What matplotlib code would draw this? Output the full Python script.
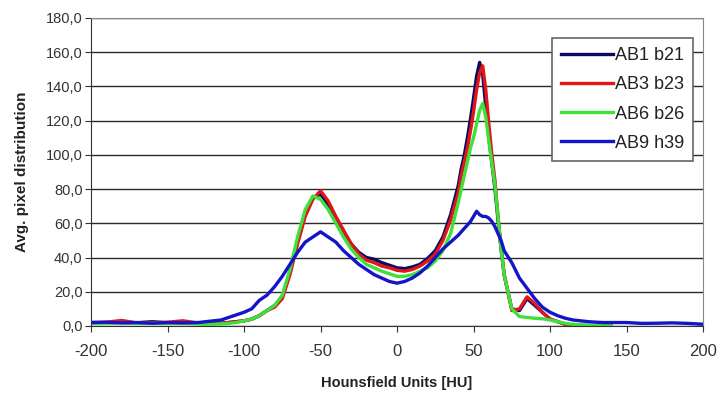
#!/usr/bin/env python3
import numpy as np
import matplotlib
matplotlib.use("Agg")
import matplotlib.pyplot as plt
import matplotlib.ticker as mticker

plt.rcParams['font.family'] = ['Liberation Sans', 'DejaVu Sans']
plt.rcParams['axes.unicode_minus'] = False

hu = [-200, -190, -180, -170, -160, -150, -140, -130,
      -125, -120, -115, -110, -105, -100, -95, -90, -85, -80, -75, -70,
      -65, -60, -55, -50, -45, -40, -35, -30, -25, -20, -15, -10, -5,
      0, 5, 10, 15, 20, 25, 30, 35, 40,
      42, 44, 46, 48, 50, 52, 54, 56, 58, 60, 62, 64, 66, 68, 70,
      75, 80, 85, 90, 95, 100, 105, 110, 115, 120, 125, 130, 135, 140,
      150, 160, 170, 180, 190, 200]

ab1_b21 = [2.0, 1.8, 2.2, 1.9, 2.5, 1.8, 2.0, 1.8,
           1.5, 1.8, 1.6, 2.0, 2.5, 3.0, 4.0, 6.0, 9.0, 12.0, 17.0, 31.0,
           50.0, 66.0, 75.0, 77.0, 71.0, 63.0, 55.0, 48.0, 43.0, 40.0, 39.0, 37.0, 35.5,
           34.0, 33.5, 34.5, 36.0, 39.5, 44.0, 52.0, 65.0, 82.0,
           92.0, 100.0, 110.0, 121.0, 133.0, 146.0, 154.0, 147.0, 128.0, 110.0, 95.0, 80.0, 62.0, 45.0, 30.0,
           10.0, 9.0, 16.0, 12.0, 8.0, 4.0, 2.5, 1.0, 0.5, 0.3, 0.2, 0.1, 0.0, 0.0,
           np.nan, np.nan, np.nan, np.nan, np.nan, np.nan]

ab3_b23 = [2.0, 2.2, 3.2, 1.8, 2.0, 2.2, 3.0, 1.8,
           1.5, 1.5, 1.6, 2.0, 2.5, 3.0, 4.0, 6.0, 9.0, 11.0, 16.0, 30.0,
           48.0, 64.0, 74.0, 79.0, 73.0, 64.0, 56.0, 48.0, 42.0, 38.5, 37.0, 35.0, 34.0,
           32.5, 32.0, 33.0, 35.0, 38.0, 42.0, 50.0, 62.0, 78.0,
           88.0, 96.0, 104.0, 114.0, 125.0, 138.0, 148.0, 152.0, 138.0, 118.0, 100.0, 85.0, 64.0, 46.0, 30.0,
           9.0, 10.0, 17.0, 13.0, 8.0, 4.0, 2.5, 1.0, 0.5, 0.3, 0.2, 0.1, 0.0, 0.0,
           np.nan, np.nan, np.nan, np.nan, np.nan, np.nan]

ab6_b26 = [1.5, 1.5, 1.8, 1.5, 1.6, 1.5, 1.5, 1.2,
           1.0, 1.0, 1.2, 1.5, 2.0, 3.0, 4.0, 6.0, 9.0, 12.0, 18.0, 33.0,
           52.0, 68.0, 76.0, 74.0, 68.0, 60.0, 52.0, 45.0, 40.0, 36.0, 34.0, 32.0, 30.5,
           29.0, 29.0, 30.0, 32.0, 34.0, 38.0, 44.0, 54.0, 72.0,
           80.0, 88.0, 96.0, 104.0, 110.0, 118.0, 126.0, 130.0, 122.0, 108.0, 95.0, 82.0, 64.0, 45.0, 30.0,
           10.0, 5.5, 5.0, 4.5, 4.2, 3.5, 2.5, 1.5, 1.0, 0.6, 0.4, 0.3, 0.2, 0.1,
           np.nan, np.nan, np.nan, np.nan, np.nan, np.nan]

ab9_h39 = [2.0, 2.2, 1.8, 2.0, 1.6, 2.0, 1.8, 2.0,
           2.5, 3.0, 3.5, 5.0, 6.5, 8.0, 10.0, 15.0, 18.0, 23.0, 29.0, 36.0,
           43.0, 49.0, 52.0, 55.0, 52.0, 49.0, 44.0, 40.0, 36.0, 33.0, 30.0, 28.0, 26.0,
           25.0, 26.0, 28.0, 31.0, 35.0, 40.0, 45.0, 49.0, 53.0,
           55.0, 57.0, 59.0, 61.0, 64.0, 67.0, 65.0, 64.0, 64.0, 63.0, 61.0, 58.0, 54.0, 50.0, 44.0,
           37.0, 28.0, 22.0, 16.0, 11.0, 8.0, 6.0, 4.5, 3.5, 3.0, 2.5, 2.2, 2.0, 2.0,
           2.0, 1.5, 1.6, 1.8, 1.5, 1.0]

series = [('AB1 b21', ab1_b21, '#0b0b5e'),
          ('AB3 b23', ab3_b23, '#e0161b'),
          ('AB6 b26', ab6_b26, '#3ee03a'),
          ('AB9 h39', ab9_h39, '#1414c8')]

fig = plt.figure(figsize=(7.17, 3.98), dpi=100)
ax = fig.add_axes([0.127, 0.181, 0.8535, 0.774])

for name, vals, col in series:
    ax.plot(hu, vals, color=col, lw=2.4, label=name, solid_joinstyle='round')

ax.set_xlim(-200, 200)
ax.set_ylim(0, 180)
ax.xaxis.set_major_locator(mticker.MultipleLocator(50))
ax.yaxis.set_major_locator(mticker.MultipleLocator(20))
ax.yaxis.set_major_formatter(mticker.FuncFormatter(lambda v, p: ('%.1f' % v).replace('.', ',')))

ax.grid(axis='y', color='#2a2a2a', lw=1.0)
ax.set_axisbelow(True)
for s in ['left', 'bottom']:
    ax.spines[s].set_color('#333333')
for s in ['right', 'top']:
    ax.spines[s].set_color('#888888')
ax.tick_params(direction='out', length=4, color='#333333', labelcolor='#333333')
ax.tick_params(axis='x', labelsize=12, pad=9)
ax.tick_params(axis='y', labelsize=10.5, pad=2)

ax.set_xlabel('Hounsfield Units [HU]', fontsize=10.5, fontweight='bold', color='#222222', labelpad=12)
ax.set_ylabel('Avg. pixel distribution', fontsize=11, fontweight='bold', color='#222222', labelpad=12)

leg = ax.legend(loc='upper right', bbox_to_anchor=(0.984, 0.935), fontsize=13,
                frameon=True, fancybox=False, handlelength=2.9, handletextpad=0.1,
                borderpad=0.5, labelspacing=0.68, borderaxespad=0)
leg.get_frame().set_edgecolor('#666666')
leg.get_frame().set_linewidth(1.2)
leg.get_frame().set_alpha(1)
for t in leg.get_texts():
    t.set_color('#222222')

fig.savefig('out.png', dpi=100)
